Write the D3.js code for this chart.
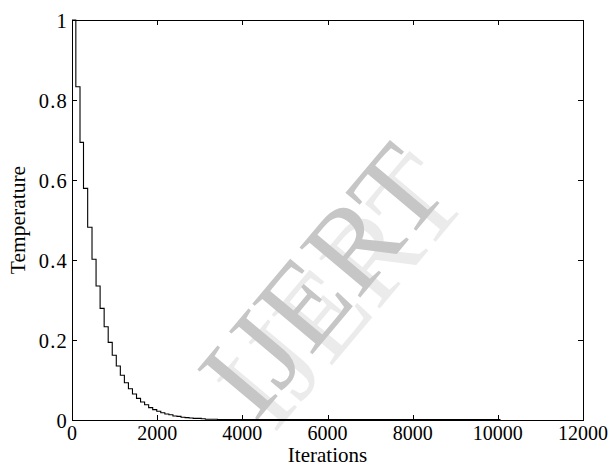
<!DOCTYPE html>
<html lang="en">
<head>
    <meta charset="UTF-8">
    <title>Temperature vs Iterations</title>
    <style>
        body { margin: 0; background: #fff; }
        svg text { font-family: "Liberation Serif", "Times New Roman", serif; }
    </style>
</head>
<body>
<div id="chart"></div>
<script src="https://d3js.org/d3.v7.min.js"></script>
<script>
    // step start (iterations) and the temperature held from there on
    var iterations = [0, 90, 188, 270, 368, 470, 565, 660, 755, 850, 945, 1040, 1135, 1230, 1325,
        1420, 1515, 1610, 1705, 1800, 1895, 1990, 2085, 2180, 2275, 2370, 2465, 2560, 2655, 2750,
        2845, 2940, 3035, 3130, 3225, 3320, 3415, 3510, 10050];
    var temperature = [1.000, 0.833, 0.694, 0.579, 0.482, 0.402, 0.335, 0.279, 0.233, 0.194,
        0.162, 0.135, 0.112, 0.093, 0.078, 0.065, 0.054, 0.045, 0.038, 0.031, 0.026, 0.022,
        0.018, 0.015, 0.013, 0.010, 0.009, 0.007, 0.006, 0.005, 0.004, 0.004, 0.003, 0.002,
        0.002, 0.002, 0.001, 0.001, 0.000];
    var xTicks = [0, 2000, 4000, 6000, 8000, 10000, 12000];
    var yTicks = [0, 0.2, 0.4, 0.6, 0.8, 1];

    var W = 608, H = 468;
    var m = { left: 72, right: 583, top: 20, bottom: 420 };
    var tickLen = 5;

    var svg = d3.select("#chart").append("svg")
        .attr("width", W)
        .attr("height", H);

    var x = d3.scaleLinear().domain([0, 12000]).range([m.left, m.right]);
    var y = d3.scaleLinear().domain([0, 1]).range([m.bottom, m.top]);

    // watermark behind everything
    var wm = svg.append("g")
        .attr("transform", "translate(322,280) rotate(-50)");
    wm.append("text")
        .attr("x", 4).attr("y", 22)
        .attr("text-anchor", "middle")
        .attr("dominant-baseline", "central")
        .style("font-size", "120px")
        .style("fill", "#ebebeb")
        .text("IJERT");
    wm.append("text")
        .attr("text-anchor", "middle")
        .attr("dominant-baseline", "central")
        .style("font-size", "120px")
        .style("fill", "#c6c6c6")
        .text("IJERT");

    // the step line
    var pts = iterations.map(function (d, i) { return [d, temperature[i]]; });
    var line = d3.line()
        .x(function (d) { return x(d[0]); })
        .y(function (d) { return y(d[1]); })
        .curve(d3.curveStepAfter);
    svg.append("path")
        .attr("d", line(pts))
        .style("fill", "none")
        .style("stroke", "#000")
        .style("stroke-width", 1.1);

    // inward ticks on all four sides (matlab box)
    var g = svg.append("g").style("stroke", "#000").style("stroke-width", 1);
    xTicks.forEach(function (t) {
        var px = Math.round(x(t)) + 0.5;
        g.append("line").attr("x1", px).attr("x2", px).attr("y1", m.bottom).attr("y2", m.bottom - tickLen);
        g.append("line").attr("x1", px).attr("x2", px).attr("y1", m.top).attr("y2", m.top + tickLen);
    });
    yTicks.forEach(function (t) {
        var py = Math.round(y(t)) + 0.5;
        g.append("line").attr("x1", m.left).attr("x2", m.left + tickLen).attr("y1", py).attr("y2", py);
        g.append("line").attr("x1", m.right).attr("x2", m.right - tickLen).attr("y1", py).attr("y2", py);
    });

    svg.append("rect")
        .attr("x", m.left + 0.5).attr("y", m.top + 0.5)
        .attr("width", m.right - m.left).attr("height", m.bottom - m.top)
        .style("fill", "none")
        .style("stroke", "#000")
        .style("stroke-width", 1);

    // tick labels
    svg.selectAll(".xl").data(xTicks).enter().append("text")
        .attr("x", function (d) { return x(d); })
        .attr("y", m.bottom + 20)
        .attr("text-anchor", "middle")
        .style("font-size", "20px")
        .text(function (d) { return d; });
    svg.selectAll(".yl").data(yTicks).enter().append("text")
        .attr("x", m.left - 4)
        .attr("y", function (d) { return y(d) + 8; })
        .attr("text-anchor", "end")
        .style("font-size", "20.5px")
        .style("letter-spacing", "1.2px")
        .text(function (d) { return d; });

    svg.append("text")
        .attr("x", (m.left + m.right) / 2)
        .attr("y", 462)
        .attr("text-anchor", "middle")
        .style("font-size", "21px")
        .text("Iterations");
    svg.append("text")
        .attr("transform", "translate(25," + ((m.top + m.bottom) / 2) + ") rotate(-90)")
        .attr("text-anchor", "middle")
        .style("font-size", "21.5px")
        .text("Temperature");
</script>
</body>
</html>
